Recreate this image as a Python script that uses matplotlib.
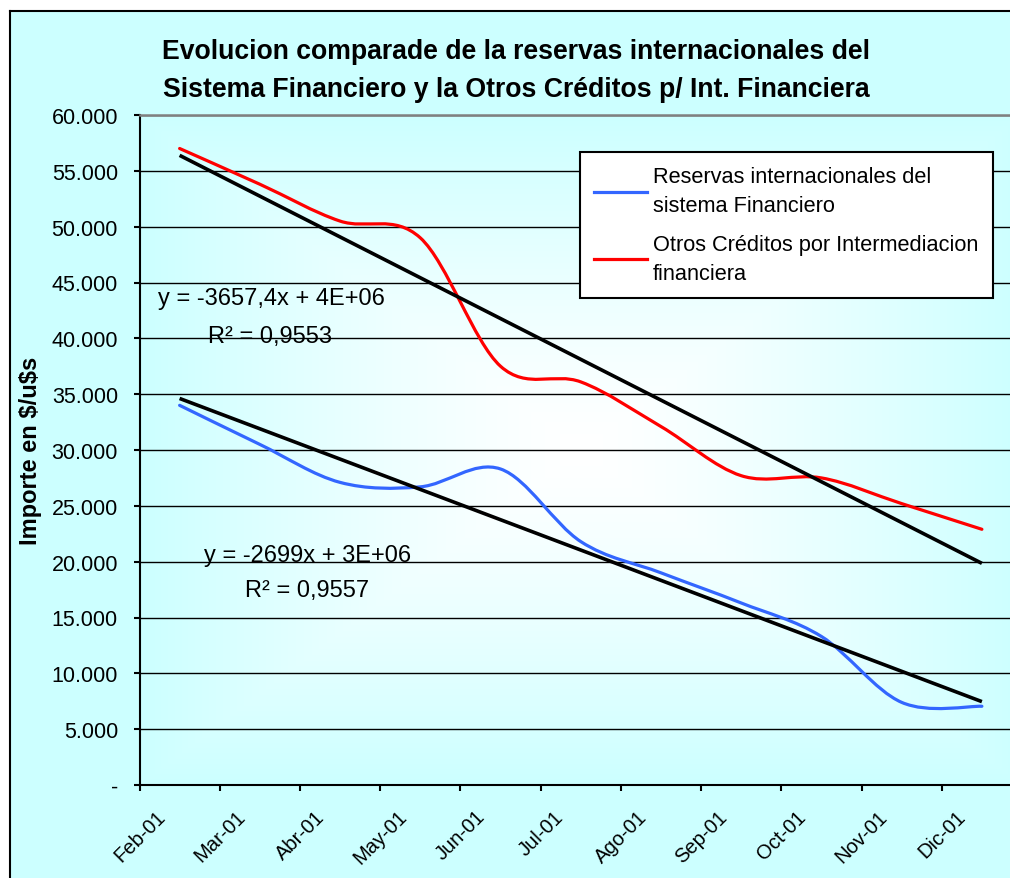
import numpy as np
import matplotlib
matplotlib.use("Agg")
import matplotlib.pyplot as plt
from matplotlib.patches import Rectangle, PathPatch
from matplotlib.path import Path
from matplotlib.lines import Line2D
from matplotlib.ticker import FuncFormatter, MultipleLocator

plt.rcParams['font.family'] = ['Liberation Sans', 'DejaVu Sans']

# datos mensuales
meses = ['Feb-01', 'Mar-01', 'Abr-01', 'May-01', 'Jun-01', 'Jul-01',
         'Ago-01', 'Sep-01', 'Oct-01', 'Nov-01', 'Dic-01']
reservas = [34000, 30500, 27100, 26700, 28300, 21800, 19000, 16300, 13300, 7400, 7050]
otros_creditos = [57000, 53800, 50500, 49000, 37500, 36100, 32100, 27700, 27500, 25200, 22900]

lbl_reservas = 'Reservas internacionales del\nsistema Financiero'
lbl_otros = 'Otros Créditos por Intermediacion\nfinanciera'
titulo = ('Evolucion comparade de la reservas internacionales del\n'
          'Sistema Financiero y la Otros Créditos p/ Int. Financiera')

AZUL = '#3366FF'
ROJO = '#FF0000'
CIAN = '#CCFFFF'


def curva_suave(x, y):
    # linea suavizada estilo Excel (bezier cubica por los puntos)
    pts = np.column_stack([x, y]).astype(float)
    n = len(pts)
    verts = [pts[0]]
    codes = [Path.MOVETO]
    for i in range(n - 1):
        p0 = pts[i - 1] if i > 0 else pts[i]
        p1 = pts[i]
        p2 = pts[i + 1]
        p3 = pts[i + 2] if i + 2 < n else pts[i + 1]
        verts += [p1 + (p2 - p0) / 6, p2 - (p3 - p1) / 6, p2]
        codes += [Path.CURVE4] * 3
    return Path(verts, codes)


W, H = 1010, 879
fig = plt.figure(figsize=(W / 100, H / 100), dpi=100, facecolor=CIAN)

# margen blanco arriba e izquierda, y borde negro del area del grafico
fig.patches.append(Rectangle((0, 1 - 12 / H), 1, 12 / H, transform=fig.transFigure,
                             facecolor='white', edgecolor='none', zorder=-2))
fig.patches.append(Rectangle((0, 0), 10 / W, 1, transform=fig.transFigure,
                             facecolor='white', edgecolor='none', zorder=-2))
fig.add_artist(Line2D([10 / W, 10 / W], [0, 1 - 12 / H], color='black', lw=1.5,
                      transform=fig.transFigure, zorder=-1, solid_capstyle='projecting'))
fig.add_artist(Line2D([10 / W, 1], [1 - 12 / H, 1 - 12 / H], color='black', lw=1.5,
                      transform=fig.transFigure, zorder=-1, solid_capstyle='projecting'))

left, right, top, bottom = 139.5, 1022, 116, 786
ax = fig.add_axes([left / W, 1 - bottom / H, (right - left) / W, (bottom - top) / H])
ax.set_zorder(1)
ax.set_facecolor('none')

# degradado desde el centro (blanco) hacia los bordes (cian)
u = np.linspace(-1, 1, 400)
U, V = np.meshgrid(u, u)
t = np.clip(np.maximum(np.abs(U), np.abs(V)), 0, 1) ** 1.3
c0 = np.array([1.0, 1.0, 1.0])
c1 = np.array([0.8, 1.0, 1.0])
img = c0[None, None, :] * (1 - t[..., None]) + c1[None, None, :] * t[..., None]
ax.imshow(img, extent=[0, 1, 0, 1], transform=ax.transAxes, aspect='auto', zorder=0)

xs = np.arange(len(meses)) + 0.5

for serie, color in [(reservas, AZUL), (otros_creditos, ROJO)]:
    ax.add_patch(PathPatch(curva_suave(xs, serie), facecolor='none', edgecolor=color,
                           lw=2.3, capstyle='round', joinstyle='round', zorder=3))
    coef = np.polyfit(xs, serie, 1)
    ax.plot(xs[[0, -1]], np.polyval(coef, xs[[0, -1]]), color='black', lw=2.6,
            solid_capstyle='butt', zorder=4)

ax.set_xlim(0, 11)
ax.set_ylim(0, 60000)

ax.yaxis.set_major_locator(MultipleLocator(5000))
ax.yaxis.set_major_formatter(FuncFormatter(
    lambda v, p: '-' if v == 0 else f'{int(v):,}'.replace(',', '.')))
ax.grid(axis='y', color='black', lw=1.0, zorder=1)
ax.set_axisbelow(False)

ax.set_xticks(np.arange(len(meses)))
ax.set_xticklabels(meses, rotation=45, ha='center', va='top')
ax.tick_params(axis='x', direction='out', length=4.5, width=1.5, pad=11, labelsize=14.5)
ax.tick_params(axis='y', direction='out', length=4.5, width=1.5, pad=11, labelsize=15.5)

for s in ['left', 'bottom']:
    ax.spines[s].set_color('black')
    ax.spines[s].set_linewidth(1.5)
    ax.spines[s].set_zorder(5)
ax.spines['top'].set_color('#808080')
ax.spines['top'].set_linewidth(1.8)
ax.spines['top'].set_zorder(5)
ax.spines['right'].set_visible(False)

ax.set_ylabel('Importe en \\$/u\\$s', fontsize=17, fontweight='bold', labelpad=7)

# ecuaciones de las lineas de tendencia
ax.text(1.64, 43600, 'y = -3657,4x + 4E+06', ha='center', va='center', fontsize=17, zorder=6)
ax.text(1.63, 40250, 'R² = 0,9553', ha='center', va='center', fontsize=17, zorder=6)
ax.text(2.09, 20600, 'y = -2699x + 3E+06', ha='center', va='center', fontsize=17, zorder=6)
ax.text(2.09, 17450, 'R² = 0,9557', ha='center', va='center', fontsize=17, zorder=6)

fig.text(516 / W, 1 - 71 / H, titulo, ha='center', va='center', fontsize=19.2,
         fontweight='bold', linespacing=1.57)

handles = [Line2D([], [], color=AZUL, lw=2.3), Line2D([], [], color=ROJO, lw=2.3)]
leg = ax.legend(handles, [lbl_reservas, lbl_otros], loc='upper left',
                bbox_to_anchor=(580 / W, 1 - 153 / H), bbox_transform=fig.transFigure,
                fontsize=15.7, frameon=True, fancybox=False, framealpha=1,
                edgecolor='black', borderpad=0.65, borderaxespad=0,
                handlelength=2.4, handletextpad=0.3, labelspacing=0.8)
leg.get_frame().set_linewidth(1.5)
leg.set_zorder(7)
for tx in leg.get_texts():
    tx.set_linespacing(1.5)

fig.savefig('out.png', dpi=100, facecolor=fig.get_facecolor())
